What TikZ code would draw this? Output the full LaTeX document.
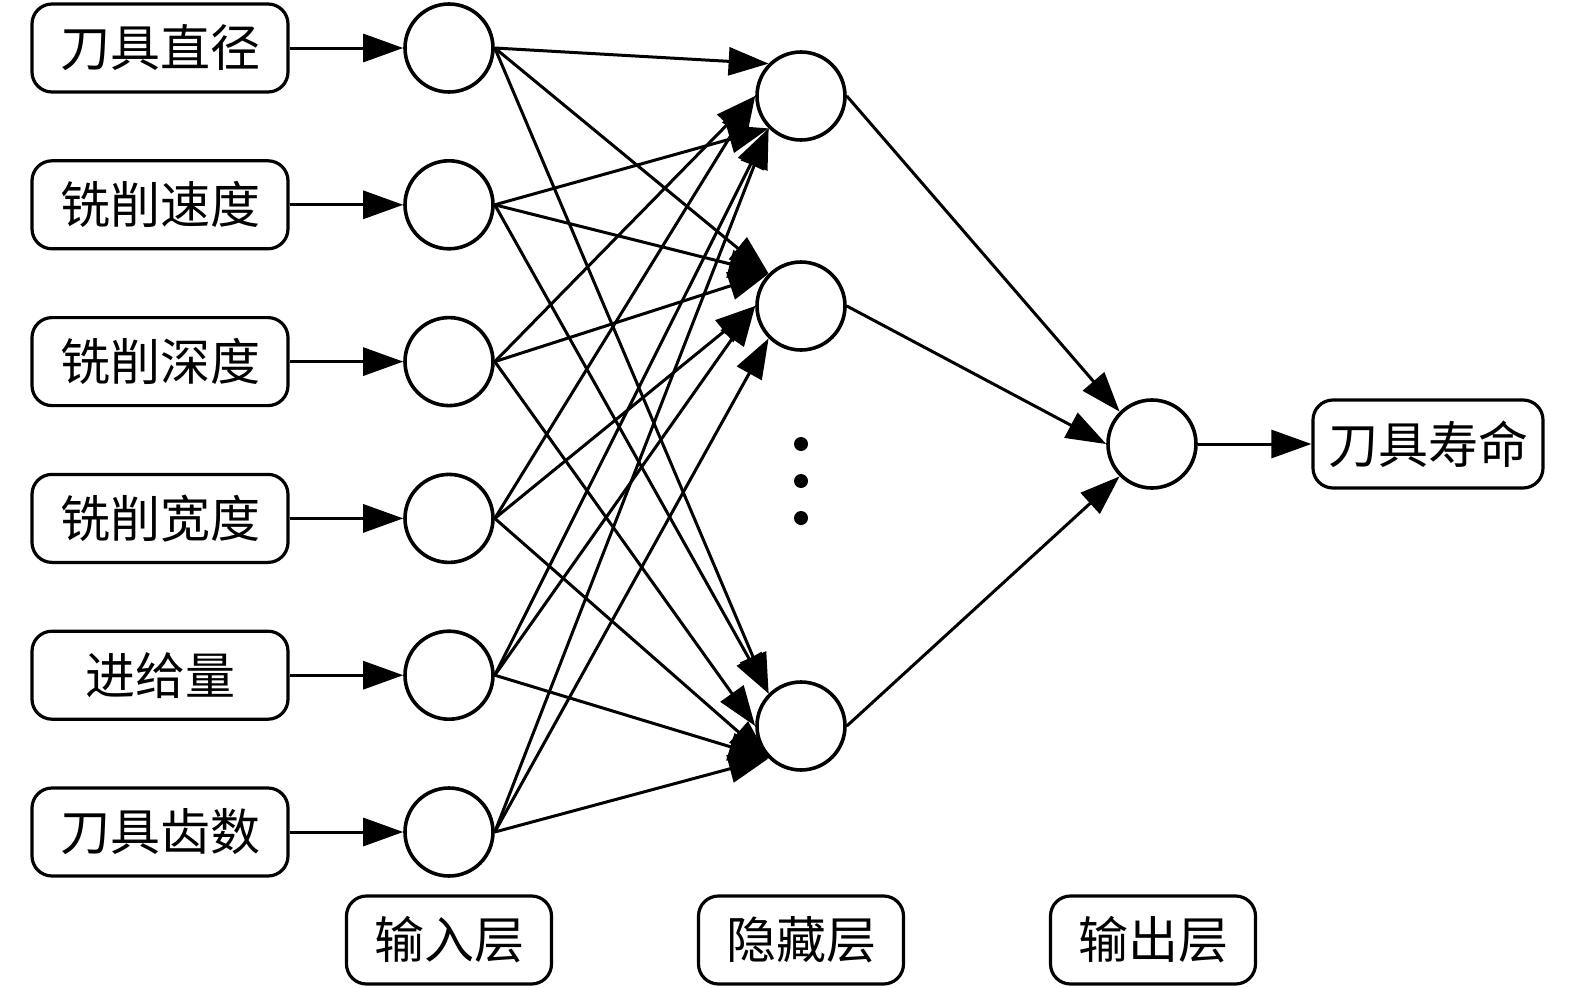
\documentclass[tikz,border=0pt]{standalone}
\usepackage{fontspec}
\setmainfont{Noto Sans CJK SC}
\usetikzlibrary{arrows.meta, positioning}
\tikzstyle{feat} = [rectangle, rounded corners=20pt, minimum width=256pt, minimum height=88pt, text centered, draw=black, line width=3.2pt, font=\fontsize{50}{54}\selectfont, inner sep=0pt]
\tikzstyle{layer} = [rectangle, rounded corners=20pt, minimum width=205pt, minimum height=88pt, text centered, draw=black, line width=3.2pt, font=\fontsize{50}{54}\selectfont, inner sep=0pt]
\tikzstyle{neuron} = [circle, minimum size=88pt, draw=black, line width=3.6pt, inner sep=0pt]
\tikzstyle{arrow} = [line width=3pt, -{Triangle[length=40pt,width=28pt]}]

\begin{document}
\begin{tikzpicture}[x=1pt, y=-1pt]
    \useasboundingbox (0,0) rectangle (1575,988);
    % input features and input layer
    \foreach \name [count=\i] in {刀具直径, 铣削速度, 铣削深度, 铣削宽度, 进给量, 刀具齿数} {
        \node (f\i) [feat] at (160, {48+156.8*(\i-1)}) {\name};
        \node (in\i) [neuron] at (449, {48+156.8*(\i-1)}) {};
        \draw [arrow] (f\i) -- (in\i);
    }
    % hidden layer
    \node (h1) [neuron] at (801, 96) {};
    \node (h2) [neuron] at (801, 306) {};
    \node (h3) [neuron] at (801, 726) {};
    \foreach \y in {444, 481, 518}
        \fill (801, \y) circle (7pt);
    % output layer
    \node (out) [neuron] at (1152, 444) {};
    \node (life) [feat, minimum width=230pt] at (1428, 444) {刀具寿命};

    % input -> hidden
    \foreach \i/\j/\a in {1/1/north west, 2/1/south west, 3/1/west, 4/1/west, 5/1/south west, 6/1/south west,
                          1/2/north west, 2/2/north west, 3/2/north west, 4/2/west, 5/2/west, 6/2/south west,
                          1/3/north west, 2/3/north west, 3/3/west, 4/3/south west, 5/3/south west, 6/3/south west}
        \draw [arrow] (in\i.east) -- (h\j.\a);
    % hidden -> output
    \foreach \j/\a in {1/north west, 2/west, 3/south west}
        \draw [arrow] (h\j.east) -- (out.\a);
    \draw [arrow] (out) -- (life);

    % layer labels
    \node (lin) [layer] at (449, 940) {输入层};
    \node (lhid) [layer] at (801, 940) {隐藏层};
    \node (lout) [layer] at (1153, 940) {输出层};
\end{tikzpicture}
\end{document}
